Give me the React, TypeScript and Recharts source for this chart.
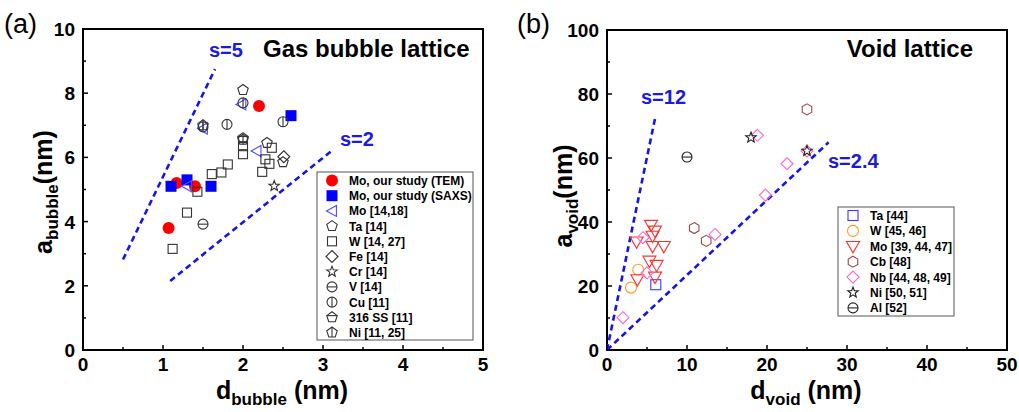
import { ScatterChart, Scatter, XAxis, YAxis, ReferenceArea, ReferenceLine } from 'recharts'

const FONT = 'Arial, "Liberation Sans", sans-serif'
const BLUE_LINE = '#1414ee'
const BLUE_TEXT = '#1a1ae0'

// ---- panel (a): gas bubble lattice, [d_bubble (nm), a_bubble (nm)]
const moTem = [[1.07, 3.8], [1.17, 5.2], [1.4, 5.1], [2.2, 7.6]]
const moSaxs = [[1.1, 5.1], [1.3, 5.3], [1.6, 5.1], [2.6, 7.3]]
const mo1418 = [[1.3, 5.1], [1.5, 6.9], [1.98, 7.65], [2.17, 6.2]]
const ta14 = [[2.0, 8.1], [2.3, 6.45], [2.5, 5.85]]
const w1427 = [
  [1.12, 3.15], [1.3, 4.28], [1.43, 4.93], [1.61, 5.48], [1.73, 5.53], [1.81, 5.78],
  [2.0, 6.35], [2.0, 6.1], [2.24, 5.55], [2.28, 5.94], [2.33, 5.8], [2.36, 6.3],
]
const fe14 = [[2.51, 6.02]]
const cr14 = [[2.39, 5.11]]
const v14 = [[1.5, 3.92]]
const cu11 = [[1.5, 6.95], [1.8, 7.03], [2.0, 7.7], [2.5, 7.11]]
const ss316 = [[2.0, 6.6]]
const ni1125 = [[1.5, 7.0], [2.0, 6.55]]
const lineS5 = [[0.5, 2.82], [1.65, 8.75]]
const lineS2 = [[1.09, 2.15], [3.13, 6.25]]
const bubbleXTicks = [0, 0.5, 1, 1.5, 2, 2.5, 3, 3.5, 4, 4.5, 5]
const bubbleYTicks = [0, 1, 2, 3, 4, 5, 6, 7, 8, 9, 10]

// ---- panel (b): void lattice, [d_void (nm), a_void (nm)]
const ta44 = [[6.1, 20.4]]
const w4546 = [[3.0, 19.5], [3.9, 25.1]]
const mo394447 = [
  [5.5, 39], [6.0, 37.2], [5.7, 35.6], [3.7, 33.8], [5.7, 32.4],
  [7.1, 32.4], [5.3, 27.8], [6.2, 26.5], [3.8, 22.0], [6.0, 22.8],
]
const cb48 = [[10.9, 38.1], [12.4, 34.1], [25.0, 75.2]]
const nb444849 = [
  [2.0, 10.1], [4.5, 35.1], [5.0, 24.1], [13.5, 36.1],
  [19.8, 48.4], [22.5, 58.2], [18.8, 67.1], [25.0, 62.2],
]
const ni5051 = [[18.0, 66.4], [25.0, 62.2]]
const al52 = [[10.0, 60.3]]
const lineS12 = [[0, 0], [6.0, 72.3]]
const lineS24 = [[0, 0], [27.7, 64.9]]
const voidXTicks = [0, 5, 10, 15, 20, 25, 30, 35, 40, 45, 50]
const voidYTicks = [0, 10, 20, 30, 40, 50, 60, 70, 80, 90, 100]

type Kind =
  | 'dot' | 'box' | 'square' | 'triLeft' | 'triDown' | 'diamond' | 'pentagon'
  | 'hexagon' | 'star' | 'circleH' | 'circleV' | 'house' | 'pentV' | 'circle'

function poly(n: number, cx: number, cy: number, r: number, rot = -90) {
  const pts: string[] = []
  for (let i = 0; i < n; i++) {
    const a = ((rot + (360 / n) * i) * Math.PI) / 180
    pts.push(`${cx + r * Math.cos(a)},${cy + r * Math.sin(a)}`)
  }
  return pts.join(' ')
}

function starPts(cx: number, cy: number, r: number) {
  const pts: string[] = []
  for (let i = 0; i < 10; i++) {
    const rr = i % 2 === 0 ? r : r * 0.42
    const a = ((-90 + 36 * i) * Math.PI) / 180
    pts.push(`${cx + rr * Math.cos(a)},${cy + rr * Math.sin(a)}`)
  }
  return pts.join(' ')
}

function Marker({ kind, cx, cy, color, r }: { kind: Kind; cx: number; cy: number; color: string; r: number }) {
  const o = { fill: 'none', stroke: color, strokeWidth: 1.1 }
  switch (kind) {
    case 'dot':
      return <circle cx={cx} cy={cy} r={r} fill={color} />
    case 'box':
      return <rect x={cx - r} y={cy - r} width={2 * r} height={2 * r} fill={color} />
    case 'square':
      return <rect x={cx - r} y={cy - r} width={2 * r} height={2 * r} {...o} />
    case 'circle':
      return <circle cx={cx} cy={cy} r={r} {...o} />
    case 'triLeft':
      return <polygon points={`${cx - r},${cy} ${cx + r * 0.8},${cy - r} ${cx + r * 0.8},${cy + r}`} {...o} />
    case 'triDown':
      return <polygon points={`${cx - r},${cy - r * 0.75} ${cx + r},${cy - r * 0.75} ${cx},${cy + r}`} {...o} />
    case 'diamond':
      return <polygon points={`${cx},${cy - r} ${cx + r},${cy} ${cx},${cy + r} ${cx - r},${cy}`} {...o} />
    case 'pentagon':
      return <polygon points={poly(5, cx, cy, r)} {...o} />
    case 'hexagon':
      return <polygon points={poly(6, cx, cy, r)} {...o} />
    case 'star':
      return <polygon points={starPts(cx, cy, r)} {...o} />
    case 'circleH':
      return (
        <g {...o}>
          <circle cx={cx} cy={cy} r={r} />
          <line x1={cx - r} x2={cx + r} y1={cy} y2={cy} />
        </g>
      )
    case 'circleV':
      return (
        <g {...o}>
          <circle cx={cx} cy={cy} r={r} />
          <line x1={cx} x2={cx} y1={cy - r} y2={cy + r} />
        </g>
      )
    case 'house':
      return (
        <g {...o}>
          <polygon points={poly(5, cx, cy, r)} />
          <line x1={cx - r * 0.95} x2={cx + r * 0.95} y1={cy - r * 0.3} y2={cy - r * 0.3} />
        </g>
      )
    case 'pentV':
      return (
        <g {...o}>
          <polygon points={poly(5, cx, cy, r)} />
          <line x1={cx} x2={cx} y1={cy - r} y2={cy + r * 0.8} />
        </g>
      )
  }
  return null
}

interface Series {
  name: string
  data: number[][]
  kind: Kind
  color: string
  r: number
}

const bubbleSeries: Series[] = [
  { name: 'Mo, our study (TEM)', data: moTem, kind: 'dot', color: '#ff0000', r: 6 },
  { name: 'Mo, our study (SAXS)', data: moSaxs, kind: 'box', color: '#0000ff', r: 5.5 },
  { name: 'Mo [14,18]', data: mo1418, kind: 'triLeft', color: '#4d4dff', r: 5.5 },
  { name: 'Ta [14]', data: ta14, kind: 'pentagon', color: '#333', r: 5.5 },
  { name: 'W [14, 27]', data: w1427, kind: 'square', color: '#333', r: 4.5 },
  { name: 'Fe [14]', data: fe14, kind: 'diamond', color: '#333', r: 6 },
  { name: 'Cr [14]', data: cr14, kind: 'star', color: '#333', r: 5.5 },
  { name: 'V [14]', data: v14, kind: 'circleH', color: '#333', r: 5 },
  { name: 'Cu [11]', data: cu11, kind: 'circleV', color: '#333', r: 5 },
  { name: '316 SS [11]', data: ss316, kind: 'house', color: '#333', r: 5.5 },
  { name: 'Ni [11, 25]', data: ni1125, kind: 'pentV', color: '#333', r: 5.5 },
]

const voidSeries: Series[] = [
  { name: 'Ta [44]', data: ta44, kind: 'square', color: '#3a3aff', r: 5 },
  { name: 'W [45, 46]', data: w4546, kind: 'circle', color: '#ff9a33', r: 5.5 },
  { name: 'Mo [39, 44, 47]', data: mo394447, kind: 'triDown', color: '#ff3030', r: 6.5 },
  { name: 'Cb [48]', data: cb48, kind: 'hexagon', color: '#a04848', r: 5.5 },
  { name: 'Nb [44, 48, 49]', data: nb444849, kind: 'diamond', color: '#ff66cc', r: 6 },
  { name: 'Ni [50, 51]', data: ni5051, kind: 'star', color: '#222', r: 5.5 },
  { name: 'Al [52]', data: al52, kind: 'circleH', color: '#222', r: 5 },
]

const toPts = (arr: number[][]) => arr.map(([x, y]) => ({ x, y }))

const makeTick = (side: 'x' | 'y', labelled: (v: number) => boolean) => (props: any) => {
  const { x, y, payload } = props
  const v = payload.value as number
  const big = labelled(v)
  const len = big ? 5 : 3
  if (side === 'x') {
    return (
      <g>
        <line x1={x} x2={x} y1={y} y2={y - len} stroke="#000" strokeWidth={1.5} />
        {big && (
          <text x={x} y={y + 21} textAnchor="middle" fontSize={19} fontWeight="bold" fontFamily={FONT} fill="#000">
            {v}
          </text>
        )}
      </g>
    )
  }
  return (
    <g>
      <line x1={x} x2={x + len} y1={y} y2={y} stroke="#000" strokeWidth={1.5} />
      {big && (
        <text x={x - 8} y={y + 7} textAnchor="end" fontSize={19} fontWeight="bold" fontFamily={FONT} fill="#000">
          {v}
        </text>
      )}
    </g>
  )
}

function Panel({
  series, xTicks, yTicks, xMax, yMax, lines, margin, left, xLab, yLab,
}: {
  series: Series[]
  xTicks: number[]
  yTicks: number[]
  xMax: number
  yMax: number
  lines: number[][][]
  margin: { top: number; right: number; bottom: number; left: number }
  left: number
  xLab: (v: number) => boolean
  yLab: (v: number) => boolean
}) {
  return (
    <div style={{ position: 'absolute', left, top: 0 }}>
      <ScatterChart width={510} height={412} margin={margin}>
        <XAxis
          type="number"
          dataKey="x"
          domain={[0, xMax]}
          ticks={xTicks}
          interval={0}
          height={30}
          tickSize={0}
          tickMargin={0}
          tickLine={false}
          axisLine={false}
          tick={makeTick('x', xLab)}
          allowDataOverflow
        />
        <YAxis
          type="number"
          dataKey="y"
          domain={[0, yMax]}
          ticks={yTicks}
          interval={0}
          width={40}
          tickSize={0}
          tickMargin={0}
          tickLine={false}
          axisLine={false}
          tick={makeTick('y', yLab)}
          allowDataOverflow
        />
        {lines.map((seg, i) => (
          <ReferenceLine
            key={i}
            segment={[{ x: seg[0][0], y: seg[0][1] }, { x: seg[1][0], y: seg[1][1] }]}
            stroke={BLUE_LINE}
            strokeWidth={2.6}
            strokeDasharray="6 4"
          />
        ))}
        {series.map(s => (
          <Scatter
            key={s.name}
            name={s.name}
            data={toPts(s.data)}
            isAnimationActive={false}
            shape={(p: any) => <Marker kind={s.kind} cx={p.cx} cy={p.cy} color={s.color} r={s.r} />}
          />
        ))}
        <ReferenceArea x1={0} x2={xMax} y1={0} y2={yMax} fill="none" stroke="#000" strokeWidth={2} fillOpacity={0} />
      </ScatterChart>
    </div>
  )
}

function LegendBox({ series, x, y, w, h, step }: { series: Series[]; x: number; y: number; w: number; h: number; step: number }) {
  return (
    <g>
      <rect x={x} y={y} width={w} height={h} fill="#fff" stroke="#555" strokeWidth={1} />
      {series.map((s, i) => {
        const cy = y + 8.5 + i * step
        return (
          <g key={s.name}>
            <Marker kind={s.kind} cx={x + 15} cy={cy} color={s.color} r={s.kind === 'dot' ? 6 : s.r} />
            <text x={x + 32} y={cy + 4.5} fontSize={12} fontWeight="bold" fontFamily={FONT} fill="#000">
              {s.name}
            </text>
          </g>
        )
      })}
    </g>
  )
}

export default function App() {
  return (
    <div style={{ position: 'absolute', left: 0, top: 0, width: 1019, height: 412, background: '#fff', fontFamily: FONT }}>
      <Panel
        series={bubbleSeries}
        xTicks={bubbleXTicks}
        yTicks={bubbleYTicks}
        xMax={5}
        yMax={10}
        lines={[lineS5, lineS2]}
        margin={{ top: 29, right: 27, bottom: 32, left: 43 }}
        left={0}
        xLab={v => Number.isInteger(v)}
        yLab={v => v % 2 === 0}
      />
      <Panel
        series={voidSeries}
        xTicks={voidXTicks}
        yTicks={voidYTicks}
        xMax={50}
        yMax={100}
        lines={[lineS12, lineS24]}
        margin={{ top: 30, right: 13, bottom: 32, left: 57 }}
        left={510}
        xLab={v => v % 10 === 0}
        yLab={v => v % 20 === 0}
      />
      <svg width={1019} height={412} style={{ position: 'absolute', left: 0, top: 0, pointerEvents: 'none' }} fontFamily={FONT}>
        <text x={4} y={33} fontSize={27}>(a)</text>
        <text x={517} y={33} fontSize={27}>(b)</text>

        <text x={263} y={57} fontSize={24} fontWeight="bold">Gas bubble lattice</text>
        <text x={973} y={57} fontSize={24} fontWeight="bold" textAnchor="end">Void lattice</text>

        <text x={209} y={57} fontSize={20} fontWeight="bold" fill={BLUE_TEXT}>s=5</text>
        <text x={340} y={146} fontSize={20} fontWeight="bold" fill={BLUE_TEXT}>s=2</text>
        <text x={641} y={104} fontSize={20} fontWeight="bold" fill={BLUE_TEXT}>s=12</text>
        <text x={828} y={168} fontSize={20} fontWeight="bold" fill={BLUE_TEXT}>s=2.4</text>

        <text x={282} y={399} textAnchor="middle" fontSize={25} fontWeight="bold">
          d<tspan fontSize={17} dy={6}>bubble</tspan>
          <tspan dy={-6}> (nm)</tspan>
        </text>
        <text x={806} y={399} textAnchor="middle" fontSize={25} fontWeight="bold">
          d<tspan fontSize={17} dy={6}>void</tspan>
          <tspan dy={-6}> (nm)</tspan>
        </text>
        <text x={0} y={0} textAnchor="middle" fontSize={25} fontWeight="bold" transform="translate(52,192) rotate(-90)">
          a<tspan fontSize={17} dy={6}>bubble</tspan>
          <tspan dy={-6}>(nm)</tspan>
        </text>
        <text x={0} y={0} textAnchor="middle" fontSize={25} fontWeight="bold" transform="translate(572,196) rotate(-90)">
          a<tspan fontSize={17} dy={6}>void</tspan>
          <tspan dy={-6}>(nm)</tspan>
        </text>

        <LegendBox series={bubbleSeries} x={317} y={172} w={156} h={168} step={15.2} />
        <LegendBox series={voidSeries} x={838} y={207} w={116} h={109} step={15.4} />
      </svg>
    </div>
  )
}
